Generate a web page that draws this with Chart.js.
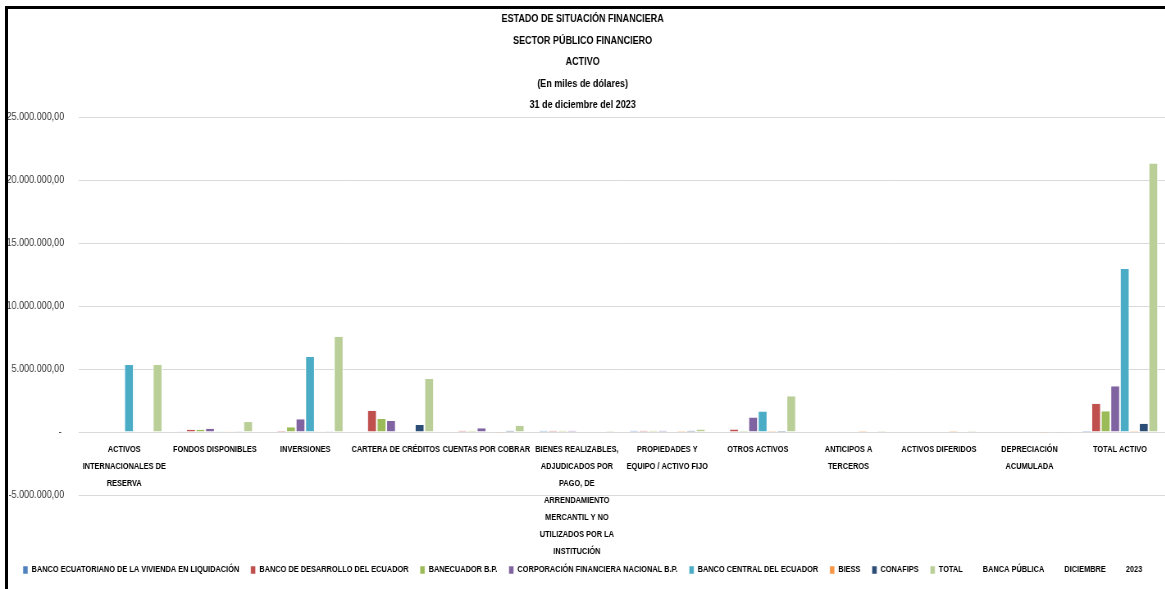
<!DOCTYPE html>
<html>
<head>
<meta charset="utf-8">
<script src="https://cdn.jsdelivr.net/npm/chart.js@4.4.1/dist/chart.umd.min.js"></script>
<style>
html, body { margin: 0; padding: 0; background: #fff; }
#wrap { position: relative; width: 1165px; height: 589px; overflow: hidden; background: #fff; }
#scaler { position: absolute; left: 0; top: 0; width: 1421px; height: 589px;
          transform: scaleX(0.82); transform-origin: 0 0; }
#c { position: absolute; left: 0; top: 0; }
#frame { position: absolute; left: 5px; top: 6px; right: -10px; bottom: -10px;
         border-top: 3px solid #000; border-left: 3px solid #000; pointer-events: none; }
</style>
</head>
<body>
<div id="wrap">
  <div id="scaler"><canvas id="c" width="1421" height="589"></canvas></div>
  <div id="frame"></div>
</div>
<script>
// ---------- DATA (miles de dólares) ----------
const titleLines = [
  "ESTADO DE SITUACIÓN FINANCIERA",
  "SECTOR PÚBLICO FINANCIERO",
  "ACTIVO",
  "(En miles de dólares)",
  "31 de diciembre del 2023"
];

const categories = [
  ["ACTIVOS", "INTERNACIONALES DE", "RESERVA"],
  "FONDOS DISPONIBLES",
  "INVERSIONES",
  "CARTERA DE CRÉDITOS",
  "CUENTAS POR COBRAR",
  ["BIENES REALIZABLES,", "ADJUDICADOS POR", "PAGO, DE", "ARRENDAMIENTO", "MERCANTIL Y NO", "UTILIZADOS POR LA", "INSTITUCIÓN"],
  ["PROPIEDADES Y", "EQUIPO / ACTIVO FIJO"],
  "OTROS ACTIVOS",
  ["ANTICIPOS A", "TERCEROS"],
  "ACTIVOS DIFERIDOS",
  ["DEPRECIACIÓN", "ACUMULADA"],
  "TOTAL ACTIVO"
];

const seriesNames = [
  "BANCO ECUATORIANO DE LA VIVIENDA EN LIQUIDACIÓN",
  "BANCO DE DESARROLLO DEL ECUADOR",
  "BANECUADOR B.P.",
  "CORPORACIÓN FINANCIERA NACIONAL B.P.",
  "BANCO CENTRAL DEL ECUADOR",
  "BIESS",
  "CONAFIPS",
  "TOTAL"
];

const bev        = [0, 60000, 0, 0, 0, 100000, 100000, 0, 0, 0, 0, 80000];
const bde        = [0, 180000, 80000, 1690000, 100000, 100000, 100000, 200000, 0, 0, 0, 2250000];
const banecuador = [0, 180000, 380000, 1030000, 100000, 100000, 100000, 80000, 0, 0, 0, 1640000];
const cfn        = [0, 260000, 1020000, 870000, 300000, 100000, 100000, 1150000, 0, 0, 0, 3640000];
const bce        = [5320000, 60000, 5950000, 0, 0, 0, 0, 1630000, 0, 0, 0, 12930000];
const biess      = [0, 60000, 60000, 0, -60000, 0, 80000, 80000, 80000, 80000, -60000, 80000];
const conafips   = [0, 60000, 60000, 550000, 100000, 0, 100000, 80000, 0, 0, 0, 660000];
const total      = [5320000, 800000, 7550000, 4200000, 500000, 80000, 200000, 2830000, 80000, 80000, -60000, 21300000];

const extraLegendLabels = ["BANCA PÚBLICA", "DICIEMBRE", "2023"];

const yMin = -5000000, yMax = 25000000, yStep = 5000000;

// ---------- STYLE ----------
const FONT = "'Liberation Sans', Arial, sans-serif";
const colors = ["#4F81BD", "#C0504D", "#9BBB59", "#8064A2", "#4BACC6", "#F79646", "#2C4D75", "#BACF98"];
const seriesValues = [bev, bde, banecuador, cfn, bce, biess, conafips, total];

function fmt(v) {
  if (v === 0) return "- ";
  const parts = Math.abs(v).toFixed(2).split(".");
  const intPart = parts[0].replace(/\B(?=(\d{3})+(?!\d))/g, ".");
  return (v < 0 ? "-" : "") + intPart + "," + parts[1];
}

const datasets = seriesNames.map((name, i) => ({
  label: name,
  data: seriesValues[i],
  backgroundColor: colors[i],
  borderColor: "#ffffff",
  borderWidth: { left: 1, right: 1, top: 0, bottom: 0 },
  categoryPercentage: 8 / 9.5,
  barPercentage: 1
}));

new Chart(document.getElementById("c"), {
  type: "bar",
  data: { labels: categories, datasets },
  options: {
    responsive: false,
    animation: false,
    devicePixelRatio: 1,
    layout: { padding: { left: 0, right: 0, top: 0, bottom: 4.5 } },
    plugins: {
      title: {
        display: true,
        text: titleLines,
        color: "#000",
        font: { family: FONT, size: 11, weight: "bold", lineHeight: 21.5 / 11 },
        padding: { top: 8.25, bottom: 1.25 }
      },
      legend: {
        position: "bottom",
        align: "center",
        title: { display: true, text: " ", font: { size: 9, lineHeight: 1.2 }, padding: { top: 45.7, bottom: 0 } },
        labels: {
          boxWidth: 6,
          boxHeight: 8,
          padding: 14,
          color: "#000",
          font: { family: FONT, size: 9, weight: "bold" },
          generateLabels(chart) {
            const items = Chart.defaults.plugins.legend.labels.generateLabels(chart);
            extraLegendLabels.forEach(t => items.push({
              text: t, fillStyle: "rgba(0,0,0,0)", strokeStyle: "rgba(0,0,0,0)",
              lineWidth: 0, hidden: false, fontColor: "#000"
            }));
            return items;
          }
        }
      },
      tooltip: { enabled: false }
    },
    scales: {
      x: {
        position: { y: 0 },
        grid: { display: false, drawTicks: false },
        border: { display: false },
        ticks: {
          autoSkip: false, maxRotation: 0, minRotation: 0, padding: 8.5,
          color: "#000",
          font: { family: FONT, size: 9, weight: "bold", lineHeight: 1.9 }
        },
        afterFit(s) { s.height = 0; }
      },
      y: {
        min: yMin, max: yMax,
        ticks: { stepSize: yStep, padding: 18, color: "#333", font: { family: FONT, size: 11 }, callback: fmt },
        grid: { color: "#D9D9D9", drawTicks: false },
        border: { display: false },
        afterFit(s) { s.width = 96.3; }
      }
    }
  }
});
</script>
</body>
</html>
